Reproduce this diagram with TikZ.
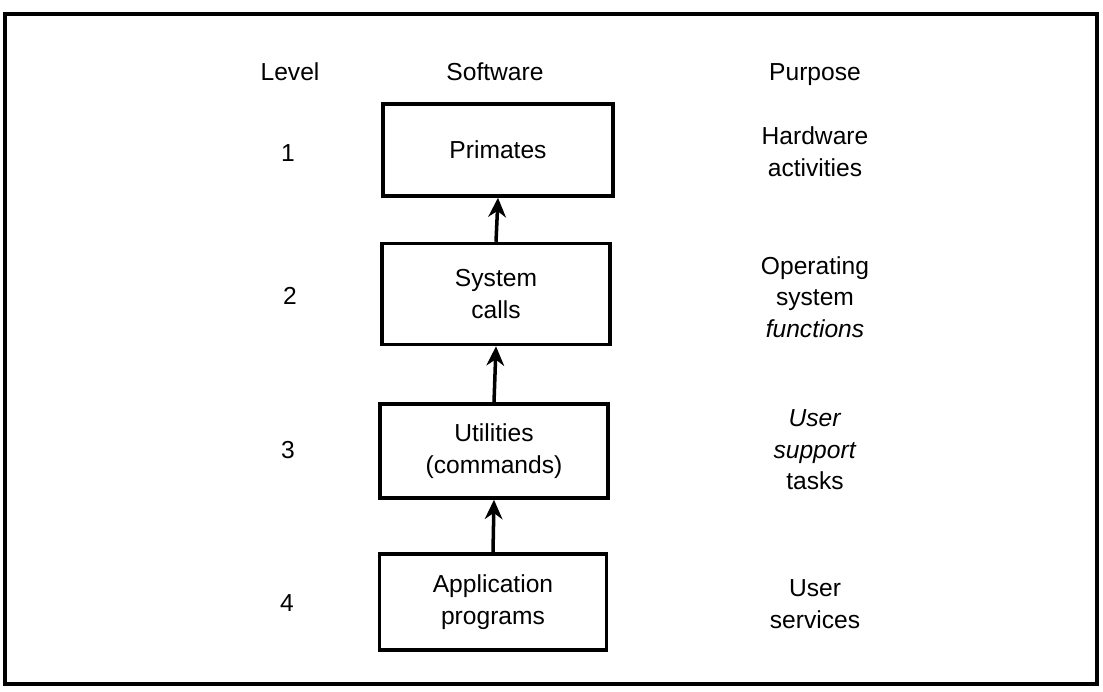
\documentclass[tikz,border=0pt]{standalone}
\usepackage{fontspec}
\setmainfont{Liberation Sans}
\usetikzlibrary{arrows.meta}
\begin{document}
\begin{tikzpicture}[x=0.02cm,y=-0.02cm,
  txt/.style={font=\fontsize{14}{18}\selectfont, align=center, inner sep=0pt},
  swbox/.style={draw, line width=2pt, txt},
  up/.style={line width=2pt, -{Stealth[length=11pt,width=10pt,inset=3.5pt]}}]
\useasboundingbox (0,0) rectangle (1103,691);
\draw[line width=2pt] (5,14) rectangle (1097,684);
% headings
\node[txt] (hlev) at (290,72) {Level};
\node[txt] (hsw) at (495,72) {Software};
\node[txt] (hpur) at (815,75) {Purpose};
% levels
\node[txt] (l1) at (288,153) {1};
\node[txt] (l2) at (290,296) {2};
\node[txt] (l3) at (288,450) {3};
\node[txt] (l4) at (287,603) {4};
% boxes
\node[swbox, minimum width=4.6cm, minimum height=1.84cm] (prim) at (498,150) {Primates};
\node[swbox, minimum width=4.56cm, minimum height=2.02cm] (sys) at (496,294) {System\\calls};
\node[swbox, minimum width=4.56cm, minimum height=1.88cm] (util) at (494,451) {Utilities\\(commands)};
\node[swbox, minimum width=4.54cm, minimum height=1.92cm] (app) at (493,602) {Application\\programs};
% arrows
\draw[up] (sys.north) -- (prim.south);
\draw[up] (util.north) -- (sys.south);
\draw[up] (app.north) -- (util.south);
% purposes
\node[txt] (p1) at (815,152) {Hardware\\activities};
\node[txt] (p2) at (815,297) {Operating\\system\\\textit{functions}};
\node[txt] (p3) at (815,450) {\textit{User}\\\textit{support}\\tasks};
\node[txt] (p4) at (815,604) {User\\services};
\end{tikzpicture}
\end{document}
